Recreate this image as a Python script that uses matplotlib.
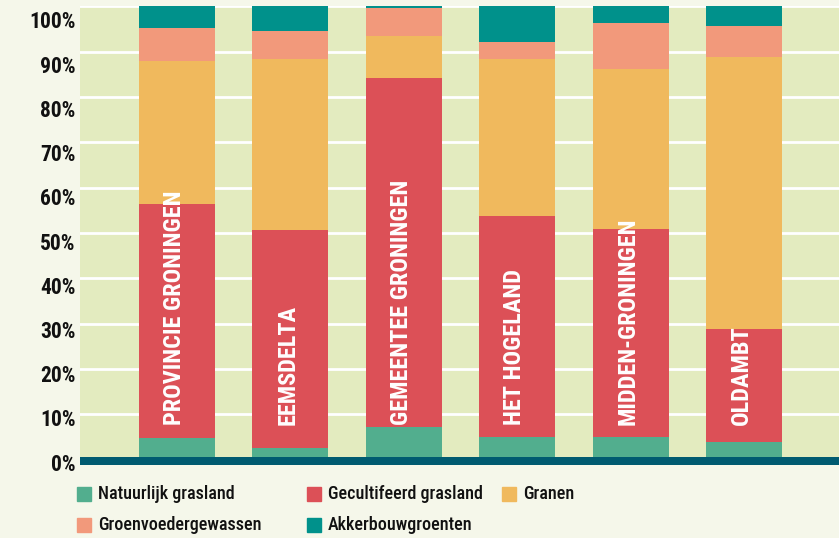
import matplotlib
matplotlib.use("Agg")
import matplotlib.pyplot as plt
from matplotlib.patches import Rectangle
from matplotlib.transforms import ScaledTranslation
from matplotlib import font_manager
import numpy as np

# Data (percent of area per region)
regions = ["PROVINCIE GRONINGEN", "EEMSDELTA", "GEMEENTEE GRONINGEN",
           "HET HOGELAND", "MIDDEN-GRONINGEN", "OLDAMBT"]
natuurlijk = [4.8, 2.6, 7.2, 5.0, 5.0, 3.9]
gecultiveerd = [51.6, 48.1, 77.0, 48.8, 45.9, 24.9]
granen = [31.6, 37.7, 9.2, 34.6, 35.3, 60.1]
groenvoeder = [7.3, 6.2, 6.2, 3.8, 10.2, 6.8]
akkerbouw = [4.7, 5.4, 0.4, 7.8, 3.6, 4.3]

series = [natuurlijk, gecultiveerd, granen, groenvoeder, akkerbouw]
names = ["Natuurlijk grasland", "Gecultifeerd grasland", "Granen",
         "Groenvoedergewassen", "Akkerbouwgroenten"]
colors = ["#52ae8e", "#dc5057", "#f0b95d", "#f2997b", "#00918b"]
yticks = [0, 10, 20, 30, 40, 50, 60, 70, 80, 90, 100]


def pick_font():
    # a narrow face looks closest to the original, use it when it's there
    fonts = font_manager.fontManager.ttflist
    for want in ["Roboto Condensed", "Liberation Sans Narrow"]:
        if any(f.name == want for f in fonts):
            return want, "normal"
    if any(f.name == "DejaVu Sans" and f.stretch == "condensed" for f in fonts):
        return "DejaVu Sans", "condensed"
    return "Roboto", "normal"


FONT, STRETCH = pick_font()

fig = plt.figure(figsize=(8.39, 5.38), dpi=100, facecolor="#f5f7ea")
ax = fig.add_axes([80 / 839, 1 - 464.7 / 538, 1 - 80 / 839, (464.7 - 6.4) / 538])
ax.set_facecolor("#e3ebbf")

x = np.arange(len(regions))
bottom = np.zeros(len(regions))
for vals, col in zip(series, colors):
    ax.bar(x, vals, 0.67, bottom=bottom, color=col, zorder=2, linewidth=0)
    bottom += np.array(vals)

ax.axhspan(-1.2, 0.65, color="#005b70", zorder=3, linewidth=0)

for xi, name in zip(x, regions):
    ax.text(xi - 0.02, 7.6, name, rotation=90, ha="center", va="bottom",
            color="white", fontsize=17.5, fontweight="bold", family=FONT,
            fontstretch=STRETCH, zorder=4)

ax.set_xlim(-0.855, 5.838)
ax.set_ylim(-1.125, 100)
ax.set_yticks(yticks)
ax.set_yticklabels([f"{t}%" for t in yticks], fontsize=15.5, fontweight="bold",
                   family=FONT, fontstretch=STRETCH, color="#111111")
ax.set_xticks([])
ax.tick_params(axis="y", length=0, pad=3)
ax.grid(axis="y", color="white", linewidth=2, zorder=1)
ax.set_axisbelow(True)
for s in ax.spines.values():
    s.set_visible(False)

# the original's labels sit a bit below their gridlines, more so near the top
for t, lab in zip(yticks, ax.get_yticklabels()):
    dy = (2.5 + 0.11 * t) * 0.72
    lab.set_transform(lab.get_transform() + ScaledTranslation(0, -dy / 72, fig.dpi_scale_trans))

# legend, laid out in rows like the original
legend_pos = [(77, 494), (307, 494), (502, 494), (77, 525), (307, 525)]
for (px, py), name, col in zip(legend_pos, names, colors):
    fig.patches.append(Rectangle((px / 839, 1 - (py + 7) / 538), 14 / 839, 14 / 538,
                                 transform=fig.transFigure, color=col, figure=fig))
    fig.text((px + 21) / 839, 1 - py / 538, name, va="center", ha="left",
             fontsize=13, family=FONT, fontstretch=STRETCH, fontweight="medium",
             color="#111111")

fig.savefig("out.png", dpi=100, facecolor=fig.get_facecolor())
